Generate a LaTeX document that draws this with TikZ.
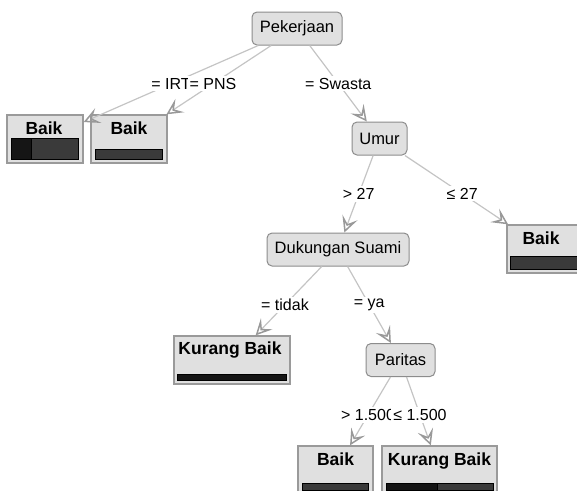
\documentclass[tikz,border=0pt]{standalone}
\usepackage{fontspec}
\setmainfont{Liberation Sans}
\usetikzlibrary{arrows.meta,calc}
\definecolor{nodefill}{HTML}{E0E0E0}
\definecolor{nodeborder}{HTML}{8C8C8C}
\definecolor{leafborder}{HTML}{9A9A9A}
\definecolor{edgecol}{HTML}{C4C4C4}
\definecolor{arrowcol}{HTML}{999999}
\definecolor{barfill}{HTML}{3A3A3A}
\definecolor{bardark}{HTML}{151515}
\begin{document}
\begin{tikzpicture}[x=1pt,y=-1pt,
  inner/.style={draw=nodeborder, fill=nodefill, rounded corners=5pt, line width=1pt,
    minimum height=33pt, inner sep=0pt, font=\fontsize{16.5}{18}\selectfont},
  leaf/.style={draw=leafborder, fill=nodefill, line width=1.3pt, minimum height=48pt, inner sep=0pt},
  leaftext/.style={anchor=north, inner sep=0pt, font=\fontsize{17.5}{19}\selectfont\bfseries},
  lbl/.style={fill=white, inner sep=2pt, font=\fontsize{16}{17}\selectfont},
  edge/.style={draw=edgecol, line width=1.2pt,
    -{Stealth[open, length=16pt, width=16pt, inset=7pt, color=arrowcol, line width=1.5pt]}},
  bar/.style={draw=black, line width=0.9pt, fill=barfill},
  bardk/.style={draw=black, line width=0.9pt, fill=bardark}]
\useasboundingbox (0,0) rectangle (577,490);
\clip (0,0) rectangle (577,490);

% internal nodes
\node[inner, minimum width=90pt] (P) at (297,28.5) {Pekerjaan};
\node[inner, minimum width=55pt] (U) at (379.5,138.5) {Umur};
\node[inner, minimum width=142pt] (D) at (338,249.5) {Dukungan Suami};
\node[inner, minimum width=69pt] (R) at (400.5,360) {Paritas};

% leaves
\node[leaf, minimum width=76pt] (L1) at (45,139) {};
\node[leaf, minimum width=76pt] (L2) at (129,139) {};
\node[leaf, minimum width=76pt] (L3) at (545,249) {};
\node[leaf, minimum width=116pt] (L4) at (232,360) {};
\node[leaf, minimum width=75pt] (L5) at (335.5,470) {};
\node[leaf, minimum width=115pt] (L6) at (439.5,470) {};

\node[leaftext] (t1) at ($(L1.north)+(-1,7)$) {Baik};
\node[leaftext] (t2) at ($(L2.north)+(0,7)$) {Baik};
\node[leaftext] (t3) at ($(L3.north)+(-4,7)$) {Baik};
\node[leaftext] (t4) at ($(L4.north)+(-2,6.5)$) {Kurang Baik};
\node[leaftext] (t5) at ($(L5.north)+(0,7)$) {Baik};
\node[leaftext] (t6) at ($(L6.north)+(0,7)$) {Kurang Baik};

% bars
\draw[bar] ($(L1.south west)+(5,-4)$) rectangle ($(L1.south east)+(-5,-25)$);
\draw[bardk] ($(L1.south west)+(5,-4)$) rectangle ($(L1.south west)+(25,-25)$);
\draw[bar] ($(L2.south west)+(5,-4)$) rectangle ($(L2.south east)+(-5,-14)$);
\draw[bar] ($(L3.south west)+(4,-4)$) rectangle ($(L3.south east)+(-4,-17)$);
\draw[bardk] ($(L4.south west)+(4,-4)$) rectangle ($(L4.south east)+(-4,-10)$);
\draw[bar] ($(L5.south west)+(5,-4)$) rectangle ($(L5.south east)+(-5,-11)$);
\draw[bar] ($(L6.south west)+(5,-4)$) rectangle ($(L6.south east)+(-4,-11)$);
\draw[bardk] ($(L6.south west)+(5,-4)$) rectangle ($(L6.south west)+(56,-11)$);

% edges
\draw[edge] (P) -- (L1);
\draw[edge] (P) -- (L2);
\draw[edge] (P) -- (U);
\draw[edge] (U) -- (D);
\draw[edge] (U) -- (L3);
\draw[edge] (D) -- (L4);
\draw[edge] (D) -- (R);
\draw[edge] (R) -- (L5);
\draw[edge] (R) -- (L6);

% labels
\node[lbl] (e1) at ($(P)!.5!(L1)$) {= IRT};
\node[lbl] (e2) at ($(P)!.5!(L2)$) {= PNS};
\node[lbl] (e3) at ($(P)!.5!(U)$) {= Swasta};
\node[lbl] (e4) at ($(U)!.5!(D)$) {> 27};
\node[lbl] (e5) at ($(U)!.5!(L3)$) {≤ 27};
\node[lbl] (e6) at ($(D)!.5!(L4)$) {= tidak};
\node[lbl] (e7) at ($(D)!.5!(R)$) {= ya};
\node[lbl] (e8) at ($(R)!.5!(L5)$) {> 1.500};
\node[lbl] (e9) at ($(R)!.5!(L6)$) {≤ 1.500};
\end{tikzpicture}
\end{document}
